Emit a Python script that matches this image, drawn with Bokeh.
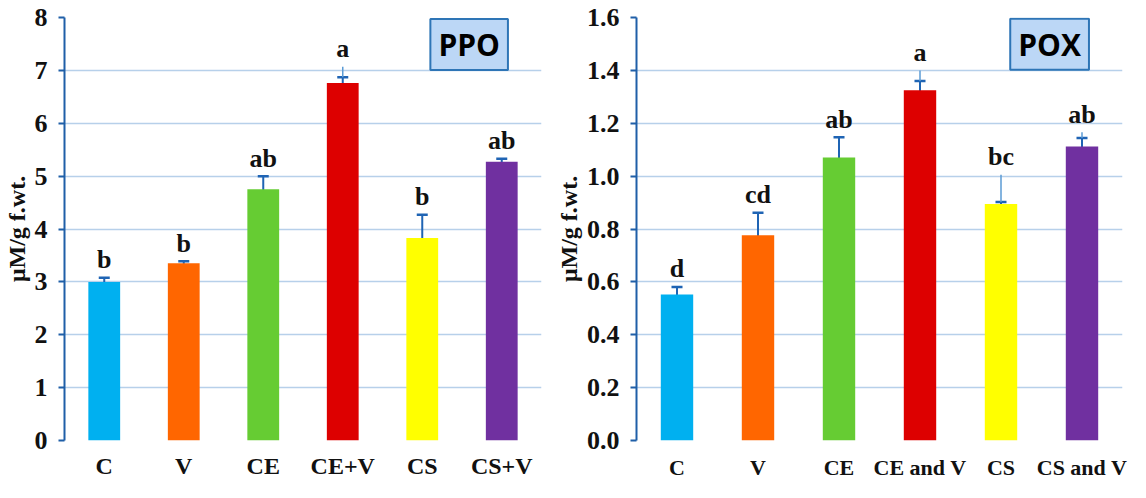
from bokeh.plotting import figure
from bokeh.models import (ColumnDataSource, FactorRange, Range1d, FixedTicker,
                          NumeralTickFormatter, Label, Whisker, TeeHead)
from bokeh.layouts import row
from bokeh.core.properties import value
from bokeh.embed import file_html
from bokeh.resources import INLINE

# ---------------- data ----------------
ppo_cats = ["C", "V", "CE", "CE+V", "CS", "CS+V"]
ppo_vals = [3.00, 3.35, 4.75, 6.76, 3.83, 5.27]
ppo_lower = [2.91, 3.31, 4.53, 6.65, 3.41, 5.22]
ppo_upper = [3.08, 3.39, 5.00, 6.87, 4.27, 5.33]
ppo_ext = [3.08, 3.39, 5.00, 7.07, 4.27, 5.33]
ppo_letters = ["b", "b", "ab", "a", "b", "ab"]
ppo_ticks = [0, 1, 2, 3, 4, 5, 6, 7, 8]

pox_cats = ["C", "V", "CE", "CE and V", "CS", "CS and V"]
pox_vals = [0.552, 0.776, 1.070, 1.325, 0.895, 1.112]
pox_lower = [0.526, 0.692, 0.996, 1.294, 0.888, 1.086]
pox_upper = [0.581, 0.861, 1.147, 1.360, 0.902, 1.144]
pox_ext = [0.581, 0.861, 1.147, 1.400, 1.005, 1.166]
pox_letters = ["d", "cd", "ab", "a", "bc", "ab"]
pox_ticks = [0.0, 0.2, 0.4, 0.6, 0.8, 1.0, 1.2, 1.4, 1.6]

bar_colors = ["#00b0f0", "#ff6600", "#66cc33", "#dd0000", "#ffff00", "#7030a0"]

SERIF = "Liberation Serif"
AXIS_BLUE = "#1f5fa8"
ERR_DARK = "#1f64b4"
ERR_LIGHT = "#5b9bd5"
GRID = "#b7d0ea"
INK = "#111111"


def make_panel(cats, vals, lower, upper, ext, letters, ticks, fmt, title,
               box_x, box_y, width, bl, br, xfont, xstand):
    p = figure(x_range=FactorRange(*cats), y_range=Range1d(ticks[0], ticks[-1]),
               width=width, height=482, output_backend="svg",
               toolbar_location=None, min_border_left=bl, min_border_right=br,
               min_border_top=17, min_border_bottom=40)
    p.outline_line_color = None

    top = [max(u, e) for u, e in zip(upper, ext)]
    src = ColumnDataSource(dict(base=cats, val=vals, lower=lower, upper=upper,
                                ext=ext, top=top, letter=letters,
                                color=bar_colors))
    p.vbar(x="base", top="val", width=0.40, source=src, fill_color="color",
           line_color=None)

    p.segment(x0="base", y0="upper", x1="base", y1="ext", source=src,
              line_color=ERR_LIGHT, line_width=1.5)
    w = Whisker(base="base", upper="upper", lower="lower", source=src,
                line_color=ERR_DARK, line_width=2,
                upper_head=TeeHead(size=11, line_color=ERR_DARK, line_width=2.5),
                lower_head=TeeHead(size=11, line_color=ERR_DARK, line_width=2.5))
    p.add_layout(w)

    p.text(x="base", y="top", text="letter", source=src,
           text_font=value(SERIF), text_font_style="bold",
           text_font_size="26px", text_align="center",
           text_baseline="middle", y_offset=-18, text_color=INK)

    # title box with shadow
    pad = dict(left=8, right=8, top=5, bottom=5)
    shadow = Label(x=box_x, y=box_y, text=title, text_font="Open Sans",
                   text_font_style="bold", text_font_size="30px",
                   text_align="center", text_baseline="middle",
                   text_alpha=0.0, x_offset=2, y_offset=-4,
                   background_fill_color="#7f7f7f", background_fill_alpha=0.6,
                   padding=pad)
    p.add_layout(shadow)
    lab = Label(x=box_x, y=box_y, text=title, text_font="Open Sans",
                text_font_style="bold", text_font_size="30px",
                text_align="center", text_baseline="middle",
                text_color="#000000",
                background_fill_color="#bcd7f6", background_fill_alpha=1.0,
                border_line_color="#2e75b6", border_line_width=2,
                padding=pad)
    p.add_layout(lab)

    # grid
    p.xgrid.grid_line_color = None
    p.ygrid.grid_line_color = GRID
    p.ygrid.grid_line_width = 1.5

    # y axis
    p.yaxis.ticker = FixedTicker(ticks=ticks)
    if fmt:
        p.yaxis.formatter = NumeralTickFormatter(format=fmt)
    p.yaxis.axis_line_color = AXIS_BLUE
    p.yaxis.axis_line_width = 2
    p.yaxis.major_tick_line_color = AXIS_BLUE
    p.yaxis.major_tick_line_width = 2
    p.yaxis.major_tick_out = 6
    p.yaxis.major_tick_in = 0
    p.yaxis.minor_tick_line_color = None
    p.yaxis.major_label_text_font = SERIF
    p.yaxis.major_label_text_font_style = "bold"
    p.yaxis.major_label_text_font_size = "26px"
    p.yaxis.major_label_text_color = INK
    p.yaxis.major_label_standoff = 11
    p.yaxis.axis_label = "μM/g f.wt."
    p.yaxis.axis_label_text_font = SERIF
    p.yaxis.axis_label_text_font_style = "bold"
    p.yaxis.axis_label_text_font_size = "24px"
    p.yaxis.axis_label_text_color = INK
    p.yaxis.axis_label_standoff = 2

    # x axis: category names only
    p.xaxis.axis_line_color = None
    p.xaxis.major_tick_line_color = None
    p.xaxis.minor_tick_line_color = None
    p.xaxis.major_tick_out = 0
    p.xaxis.major_tick_in = 0
    p.xaxis.major_label_standoff = xstand
    p.xaxis.major_label_text_font = SERIF
    p.xaxis.major_label_text_font_style = "bold"
    p.xaxis.major_label_text_font_size = xfont
    p.xaxis.major_label_text_color = INK
    return p


p1 = make_panel(ppo_cats, ppo_vals, ppo_lower, ppo_upper, ppo_ext, ppo_letters,
                ppo_ticks, None, "PPO", 5.09, 7.49, 552, 64, 11, "24px", 12)
p2 = make_panel(pox_cats, pox_vals, pox_lower, pox_upper, pox_ext, pox_letters,
                pox_ticks, "0.0", "POX", 5.10, 1.499, 578, 80, 8, "22px", 14)

layout = row(p1, p2)
open("out.html", "w").write(file_html(layout, INLINE))
